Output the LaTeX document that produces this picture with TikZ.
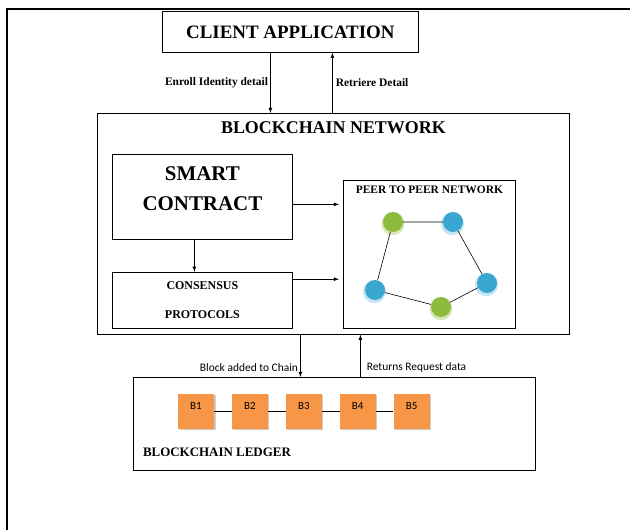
\documentclass[tikz,border=0pt]{standalone}
\usepackage{fontspec}
\setmainfont{Liberation Serif}
\newfontfamily\blockfont{Carlito}
\usepackage{tikz}
\usetikzlibrary{arrows, shapes, positioning, shadows}

\definecolor{blockorange}{HTML}{F79646}
\definecolor{peergreen}{HTML}{8DBB3E}
\definecolor{peerblue}{HTML}{3AA7D1}

\begin{document}
\begin{tikzpicture}[x=1bp, y=-1bp,
    box/.style={draw, thick, rectangle, inner sep=0pt, anchor=north west},
    block/.style={rectangle, fill=blockorange, minimum width=36bp, minimum height=35bp, inner sep=0pt,
        text height=7bp, text depth=10bp, font=\blockfont\fontsize{11}{13}\selectfont,
        drop shadow={fill=black!40, shadow xshift=1.5bp, shadow yshift=-1.5bp}},
    peer/.style={circle, inner sep=0pt, minimum size=20bp},
    greenpeer/.style={peer, fill=peergreen, drop shadow={fill=peergreen!35, opacity=1, shadow scale=1.15, shadow xshift=0bp, shadow yshift=-1.5bp}},
    bluepeer/.style={peer, fill=peerblue, drop shadow={fill=peerblue!30, opacity=1, shadow scale=1.15, shadow xshift=-0.5bp, shadow yshift=-1.5bp}}]
    \useasboundingbox (0,0) rectangle (630,530);
    % frame
    \draw[line width=1.5bp] (7,530) -- (7,9) -- (630,9);

    \node[box, minimum width=256bp, minimum height=41bp, font=\bfseries\fontsize{19}{22}\selectfont] (client) at (162,11) {CLIENT APPLICATION};
    \node[box, minimum width=472bp, minimum height=221bp,
        label={[anchor=north, yshift=-5bp, font=\bfseries\fontsize{18}{20}\selectfont]north:BLOCKCHAIN NETWORK}] (network) at (97,113) {};
    \node[box, minimum width=180bp, minimum height=85bp,
        label={[yshift=8bp, align=center, font=\bfseries\fontsize{21}{30}\selectfont]center:SMART\\CONTRACT}] (sc) at (112,154) {};
    \node[box, anchor=north, minimum width=180bp, minimum height=56bp, align=center,
        font=\bfseries\fontsize{12}{29}\selectfont] (cp) [below = 32bp of sc] {CONSENSUS\\PROTOCOLS};
    \node[box, minimum width=172bp, minimum height=148bp,
        label={[anchor=north, yshift=-2bp, font=\bfseries\fontsize{11.5}{13}\selectfont]north:PEER TO PEER NETWORK}] (p2p) at (343,180) {};
    \node[box, minimum width=402bp, minimum height=93bp,
        label={[anchor=south west, xshift=6.5bp, yshift=11bp, font=\bfseries\fontsize{13}{15}\selectfont]south west:BLOCKCHAIN LEDGER}] (ledger) at (133,377) {};

    % peers
    \node[greenpeer] (pg1) at (393,222) {};
    \node[bluepeer] (pb1) at (453,222) {};
    \node[bluepeer] (pb2) at (487,283) {};
    \node[greenpeer] (pg2) at (441,307) {};
    \node[bluepeer] (pb3) at (375,290) {};
    \draw[semithick] (pg1) -- (pb1) -- (pb2) -- (pg2) -- (pb3) -- (pg1);

    % blocks
    \node[block] (b1) at (196,411) {B1};
    \node[block] (b2) [right = 17.5bp of b1] {B2};
    \node[block] (b3) [right = 17.5bp of b2] {B3};
    \node[block] (b4) [right = 17.5bp of b3] {B4};
    \node[block] (b5) [right = 17.5bp of b4] {B5};
    \draw[semithick] (b1) -- (b2) -- (b3) -- (b4) -- (b5);

    \path[-latex]  ([xshift=-20bp]client.south) edge [thick, left, font=\bfseries\fontsize{11.5}{13}\selectfont, inner sep=2bp] node {Enroll Identity detail} ([xshift=-20bp]client.south |- network.north);
    \path[-latex]  ([xshift=42bp]client.south |- network.north) edge [thick, right, font=\bfseries\fontsize{11.5}{13}\selectfont, inner sep=3bp] node {Retriere Detail} ([xshift=42bp]client.south);
    \path[-latex]  ([xshift=-8bp]sc.south) edge [thick] ([xshift=-8bp]cp.north);
    \path[-latex]  ([yshift=-7.5bp]sc.east) edge [thick, shorten >=4bp] ([yshift=-7.5bp]sc.east -| p2p.west);
    \path[-latex]  ([yshift=21bp]cp.east) edge [thick, shorten >=4bp] ([yshift=21bp]cp.east -| p2p.west);
    \path[-latex]  ([xshift=-33bp]network.south) edge [thick] node[pos=0.77, left, font=\blockfont\fontsize{11.5}{13}\selectfont, inner sep=2bp] {Block added to Chain} ([xshift=-33bp]network.south |- ledger.north);
    \path[-latex]  ([xshift=27bp]network.south |- ledger.north) edge [thick] node[pos=0.23, right, font=\blockfont\fontsize{11.5}{13}\selectfont, inner sep=6bp] {Returns Request data} ([xshift=27bp]network.south);
\end{tikzpicture}
\end{document}
